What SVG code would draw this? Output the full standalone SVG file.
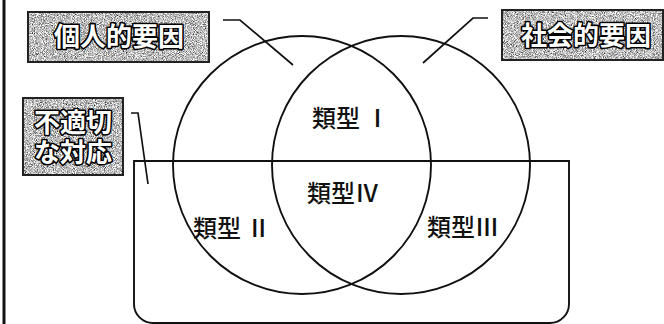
<svg xmlns="http://www.w3.org/2000/svg" width="664" height="324" viewBox="0 0 664 324">
<defs>
<filter id="grain" x="0" y="0" width="100%" height="100%" color-interpolation-filters="sRGB">
<feTurbulence type="fractalNoise" baseFrequency="1.1" numOctaves="2" seed="7" result="n"/>
<feColorMatrix in="n" type="matrix" values="0.6 0.6 0 0 -0.05  0.6 0.6 0 0 -0.05  0.6 0.6 0 0 -0.05  0 0 0 0 1" result="g"/>
<feComponentTransfer in="g" result="c">
<feFuncR type="linear" slope="1.8" intercept="-0.25"/>
<feFuncG type="linear" slope="1.8" intercept="-0.25"/>
<feFuncB type="linear" slope="1.8" intercept="-0.25"/>
</feComponentTransfer>
<feComposite in="c" in2="SourceGraphic" operator="in"/>
</filter>
<style>
.box{fill:#a0a0a0;filter:url(#grain);}
.boxline{fill:none;stroke:#222;stroke-width:2;}
.lbl{font-family:"Noto Sans CJK JP","Noto Sans",sans-serif;font-size:26px;font-weight:700;fill:#fff;stroke:#000;stroke-width:3.2px;paint-order:stroke;stroke-linejoin:round;text-anchor:middle;}
.typ{font-family:"Noto Sans CJK JP","Noto Sans",sans-serif;font-size:24px;font-weight:500;fill:#111;}
.shape{fill:none;stroke:#111;stroke-width:1.9;}
.lead{fill:none;stroke:#111;stroke-width:1.7;}
</style>
</defs>
<rect x="0" y="0" width="664" height="324" fill="#fff"/>
<line x1="4" y1="0" x2="4" y2="324" stroke="#111" stroke-width="3"/>

<g id="circle-personal"><circle class="shape" cx="302" cy="165" r="129"/></g>
<g id="circle-social"><circle class="shape" cx="401" cy="165" r="129"/></g>
<g id="rect-inappropriate"><path class="shape" d="M134,161 H569 V304 A19,19 0 0 1 550,323 H153 A19,19 0 0 1 134,304 Z"/></g>

<g id="label-personal">
<rect class="box" x="28" y="12" width="181" height="50"/>
<rect class="boxline" x="28" y="12" width="181" height="50"/>
<text class="lbl" x="119" y="46">個人的要因</text>
</g>
<g id="label-social">
<rect class="box" x="502" y="10" width="161" height="50"/>
<rect class="boxline" x="502" y="10" width="161" height="50"/>
<text class="lbl" x="586" y="45">社会的要因</text>
</g>
<g id="label-inappropriate">
<rect class="box" x="23" y="98" width="100" height="77"/>
<rect class="boxline" x="23" y="98" width="100" height="77"/>
<text class="lbl"><tspan x="73" y="132">不適切</tspan><tspan x="73" y="162">な対応</tspan></text>
</g>

<g id="type1"><text class="typ" x="312" y="127">類型 Ⅰ</text></g>
<g id="type4"><text class="typ" x="307" y="202">類型Ⅳ</text></g>
<g id="type2"><text class="typ" x="193" y="237">類型 Ⅱ</text></g>
<g id="type3"><text class="typ" x="427" y="236">類型Ⅲ</text></g>

<g id="connectors">
<polyline class="lead" points="223,20 240,20 293,65"/>
<polyline class="lead" points="488,18 473,18 423,63"/>
<polyline class="lead" points="131,113 138,113 148,184"/>
</g>
</svg>
